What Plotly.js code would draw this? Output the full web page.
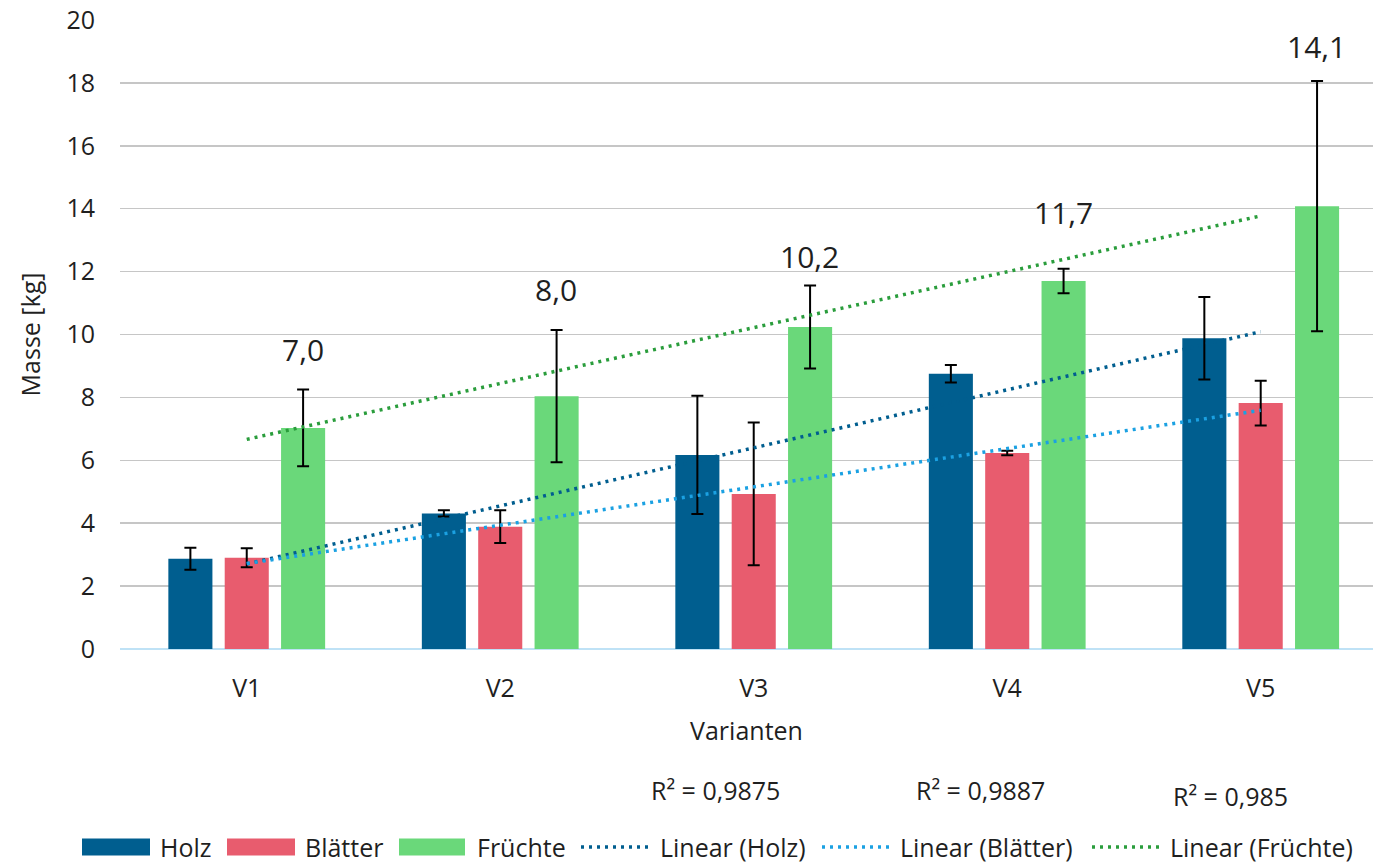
<!DOCTYPE html>
<html>
<head>
<meta charset="utf-8">
<script src="https://cdn.plot.ly/plotly-3.0.1.min.js"></script>
<style>html,body{margin:0;padding:0;background:#fff;}#chart{width:1373px;height:864px;}</style>
</head>
<body>
<div id="chart"></div>
<script>
// ---- data ----
const categories = ['V1', 'V2', 'V3', 'V4', 'V5'];
const holz      = [2.87, 4.31, 6.17, 8.75, 9.88];
const holzErr   = [0.35, 0.10, 1.88, 0.28, 1.31];
const blaetter    = [2.90, 3.89, 4.93, 6.23, 7.82];
const blaetterErr = [0.30, 0.52, 2.27, 0.07, 0.71];
const fruechte    = [7.03, 8.04, 10.24, 11.70, 14.08];
const fruechteErr = [1.22, 2.10, 1.32, 0.39, 3.98];
const r2Labels = ['R² = 0,9875', 'R² = 0,9887', 'R² = 0,985'];

// ---- layout constants ----
const FONT = '"Open Sans", "Noto Sans", sans-serif';
const TXT = '#1f1f1f';
const FS = 25;
const labelY = [9.52, 11.43, 12.48, 13.89, 19.17];        // vertical position of the data labels
const PL = 120, PW = 1253, PB = 649, PH = 629;           // plot box in px
const px = v => (v - PL) / PW, py = v => (PB - v) / PH;  // px -> paper coords
const r2Pos = [[715, 790], [980, 790], [1230, 796]];
// legend geometry (px): symbol start/end, text start
const legendGeom = [[82, 150, 158], [227, 295, 303], [399, 465, 475],
                    [581, 648, 658], [822, 890, 898], [1092, 1161, 1168]];
const legendY = 847;

function linFit(ys) {
  const n = ys.length;
  const xs = ys.map((_, i) => i + 1);
  const mx = xs.reduce((a, b) => a + b, 0) / n;
  const my = ys.reduce((a, b) => a + b, 0) / n;
  let sxy = 0, sxx = 0;
  for (let i = 0; i < n; i++) { sxy += (xs[i] - mx) * (ys[i] - my); sxx += (xs[i] - mx) ** 2; }
  const b = sxy / sxx, a = my - b * mx;
  return xs.map(x => a + b * x);
}
function fmt(v) { return v.toFixed(1).replace('.', ','); }

const errStyle = arr => ({type: 'data', array: arr, visible: true, color: '#000', thickness: 2, width: 6});
const DASH = '3px,5px';

const traces = [
  {type: 'bar', name: 'Holz', x: categories, y: holz, marker: {color: '#005E8F'}, error_y: errStyle(holzErr)},
  {type: 'bar', name: 'Blätter', x: categories, y: blaetter, marker: {color: '#E85C6E'}, error_y: errStyle(blaetterErr)},
  {type: 'bar', name: 'Früchte', x: categories, y: fruechte, marker: {color: '#6AD87A'}, error_y: errStyle(fruechteErr)},
  {type: 'scatter', mode: 'lines', name: 'Linear (Holz)', x: categories, y: linFit(holz),
   line: {color: '#005E8F', width: 3.5, dash: DASH}},
  {type: 'scatter', mode: 'lines', name: 'Linear (Blätter)', x: categories, y: linFit(blaetter),
   line: {color: '#1BA1E2', width: 3.5, dash: DASH}},
  {type: 'scatter', mode: 'lines', name: 'Linear (Früchte)', x: categories, y: linFit(fruechte),
   line: {color: '#2A9D3C', width: 3.5, dash: DASH}}
];

const annotations = [];
const shapes = [];
categories.forEach((c, i) => {
  annotations.push({x: c, y: labelY[i], xref: 'x', yref: 'y', xshift: 56, text: fmt(fruechte[i]),
    showarrow: false, font: {family: FONT, size: 30, color: TXT}, xanchor: 'center', yanchor: 'middle'});
});
r2Labels.forEach((t, i) => {
  annotations.push({x: px(r2Pos[i][0]), y: py(r2Pos[i][1]), xref: 'paper', yref: 'paper', text: t, showarrow: false,
    font: {family: FONT, size: FS, color: TXT}, xanchor: 'center', yanchor: 'middle'});
});

// legend drawn from the traces' own names and colours
traces.forEach((t, i) => {
  const g = legendGeom[i];
  if (t.type === 'bar') {
    shapes.push({type: 'rect', xref: 'paper', yref: 'paper', x0: px(g[0]), x1: px(g[1]),
      y0: py(legendY + 8.5), y1: py(legendY - 8.5), fillcolor: t.marker.color, line: {width: 0}});
  } else {
    shapes.push({type: 'line', xref: 'paper', yref: 'paper', x0: px(g[0]), x1: px(g[1]),
      y0: py(legendY), y1: py(legendY), line: {color: t.line.color, width: 3.5, dash: DASH}});
  }
  annotations.push({x: px(g[2]), y: py(legendY), xref: 'paper', yref: 'paper', text: t.name, showarrow: false,
    font: {family: FONT, size: FS, color: TXT}, xanchor: 'left', yanchor: 'middle'});
});

const layout = {
  width: 1373, height: 864,
  margin: {l: PL, r: 1373 - PL - PW, t: 20, b: 864 - PB},
  paper_bgcolor: '#fff', plot_bgcolor: '#fff',
  font: {family: FONT, size: FS, color: TXT},
  barmode: 'group', bargap: 0.333, bargroupgap: 0.218,
  showlegend: false,
  xaxis: {type: 'category', range: [-0.5, 4.443], showgrid: false, showline: false, zeroline: false,
          ticks: '', ticklabelstandoff: 22, tickfont: {family: FONT, size: FS, color: TXT},
          title: {text: 'Varianten', font: {family: FONT, size: FS, color: TXT}, standoff: 19}},
  yaxis: {range: [0, 20], dtick: 2, tick0: 0, showline: false,
          gridcolor: '#C6C6C6', gridwidth: 1.5,
          zeroline: true, zerolinecolor: '#BFE2F6', zerolinewidth: 2,
          ticks: '', ticklabelstandoff: 24, tickfont: {family: FONT, size: FS, color: TXT},
          title: {text: 'Masse [kg]', font: {family: FONT, size: FS, color: TXT}, standoff: 18}},
  shapes: shapes,
  annotations: annotations
};

Plotly.newPlot('chart', traces, layout, {displayModeBar: false, staticPlot: true});
</script>
</body>
</html>
